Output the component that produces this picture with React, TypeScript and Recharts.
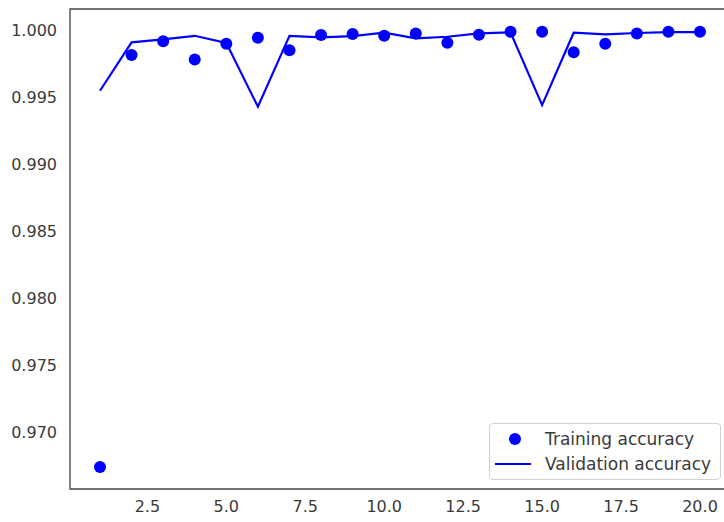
import {
  ComposedChart,
  Scatter,
  Line,
  XAxis,
  YAxis,
  ReferenceArea,
  Legend,
} from "recharts";

const epochs = [1, 2, 3, 4, 5, 6, 7, 8, 9, 10, 11, 12, 13, 14, 15, 16, 17, 18, 19, 20];
const trainAcc = [
  0.96739, 0.99813, 0.99916, 0.99781, 0.99898, 0.99943, 0.99849, 0.99963, 0.9997, 0.99957,
  0.99975, 0.99905, 0.99965, 0.99987, 0.99987, 0.99834, 0.99898, 0.99975, 0.99987, 0.99987,
];
const valAcc = [
  0.99547, 0.99908, 0.99931, 0.99957, 0.99903, 0.99428, 0.99957, 0.99946, 0.99955, 0.9998,
  0.99938, 0.9995, 0.99975, 0.99983, 0.9944, 0.9998, 0.99968, 0.99978, 0.99985, 0.99985,
];
const xTicks = [2.5, 5.0, 7.5, 10.0, 12.5, 15.0, 17.5, 20.0];
const yTicks = [0.97, 0.975, 0.98, 0.985, 0.99, 0.995, 1.0];

const data = epochs.map((epoch, i) => ({ epoch, train: trainAcc[i], val: valAcc[i] }));

const xDomain: [number, number] = [0.05, 20.95];
const yDomain: [number, number] = [0.96575, 1.00157];

const FONT = "'DejaVu Sans', sans-serif";
const tickStyle = { fill: "#3a3a3a", fontSize: 16, fontFamily: FONT };

const Dot = (props: any) => <circle cx={props.cx} cy={props.cy} r={6} fill="#0000ff" />;

function LegendBox() {
  const row = { display: "flex", alignItems: "center", height: 25 };
  return (
    <div
      style={{
        border: "1px solid #d0d0d0",
        borderRadius: 4,
        background: "rgba(255,255,255,0.85)",
        padding: "2px 6px 3px 5px",
        fontFamily: FONT,
        fontSize: 17,
        color: "#3a3a3a",
        width: 219,
        whiteSpace: "nowrap",
      }}
    >
      <div style={row}>
        <svg width={36} height={14} style={{ marginRight: 14 }}>
          <circle cx={20} cy={7} r={6} fill="#0000ff" />
        </svg>
        <span>Training accuracy</span>
      </div>
      <div style={row}>
        <svg width={36} height={14} style={{ marginRight: 14 }}>
          <line x1={0} y1={7} x2={36} y2={7} stroke="#0000ff" strokeWidth={2.2} />
        </svg>
        <span>Validation accuracy</span>
      </div>
    </div>
  );
}

export default function App() {
  return (
    <div
      style={{
        position: "fixed",
        left: 0,
        top: 0,
        width: 724,
        height: 522,
        overflow: "hidden",
        background: "#fff",
      }}
    >
      <ComposedChart
        width={740}
        height={522}
        data={data}
        margin={{ top: 9, right: 10, bottom: 0, left: 0 }}
      >
        <XAxis
          dataKey="epoch"
          type="number"
          domain={xDomain}
          allowDataOverflow
          ticks={xTicks}
          tickFormatter={(v: number) => v.toFixed(1)}
          axisLine={false}
          tickLine={false}
          tickSize={0}
          tickMargin={12}
          height={33}
          tick={tickStyle}
          interval={0}
        />
        <YAxis
          type="number"
          domain={yDomain}
          allowDataOverflow
          ticks={yTicks}
          tickFormatter={(v: number) => v.toFixed(3)}
          axisLine={false}
          tickLine={false}
          tickSize={0}
          tickMargin={13}
          width={70}
          tick={tickStyle}
          interval={0}
        />
        <ReferenceArea
          x1={xDomain[0]}
          x2={xDomain[1]}
          y1={yDomain[0]}
          y2={yDomain[1]}
          fill="none"
          stroke="#444"
          strokeWidth={1.3}
        />
        <Line
          dataKey="val"
          stroke="#0000ff"
          strokeWidth={2.2}
          dot={false}
          activeDot={false}
          isAnimationActive={false}
          name="Validation accuracy"
        />
        <Scatter
          data={data}
          dataKey="train"
          fill="#0000ff"
          shape={Dot}
          isAnimationActive={false}
          name="Training accuracy"
        />
        <Legend
          layout="vertical"
          align="center"
          verticalAlign="middle"
          content={() => <LegendBox />}
          wrapperStyle={{ position: "absolute", left: 489, top: 423, width: "auto", height: "auto" }}
        />
      </ComposedChart>
    </div>
  );
}
